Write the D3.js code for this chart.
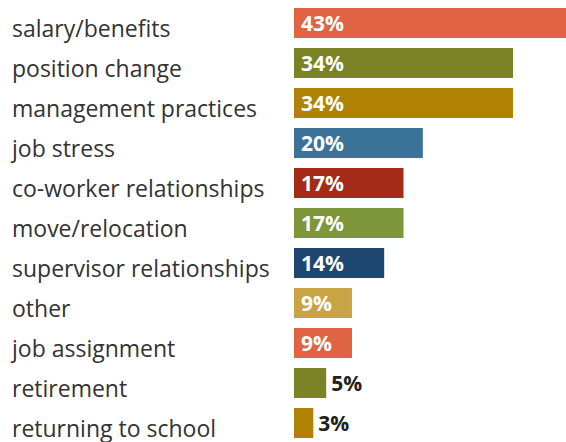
<!DOCTYPE html>
<html><head><meta charset="utf-8">
<script src="https://cdn.jsdelivr.net/npm/d3@7"></script>
<style>html,body{margin:0;padding:0;background:#fff;overflow:hidden}</style>
</head><body><svg id="c" width="566" height="442"></svg>
<script>
const categories = ["salary/benefits","position change","management practices","job stress","co-worker relationships","move/relocation","supervisor relationships","other","job assignment","retirement","returning to school"];
const values = [43,34,34,20,17,17,14,9,9,5,3];
const colors = ["#E06343","#7B8226","#B08204","#3B7398","#A32B17","#7D963A","#1D4670","#C9A445","#E06343","#7B8226","#B08204"];

const svg = d3.select("#c");
const x0 = 294;
const x = d3.scaleLinear().domain([0,34]).range([x0, 513]);
const y = d3.scaleBand().domain(categories).range([8, 438]).paddingInner(0.25).paddingOuter(0);

const rows = svg.selectAll("g.row").data(categories).join("g").attr("class","row");
rows.append("text")
  .attr("x", 12)
  .attr("y", (d)=> y(d) + y.bandwidth() - 1)
  .attr("font-family","'Open Sans', sans-serif")
  .attr("font-size", 23)
  .attr("fill","#333333")
  .text(d=>d);
rows.append("rect")
  .attr("x", x0)
  .attr("y", d=>y(d))
  .attr("width", (d,i)=> x(values[i]) - x0)
  .attr("height", y.bandwidth())
  .attr("fill", (d,i)=>colors[i]);
rows.append("text")
  .attr("x", (d,i)=> values[i] >= 9 ? x0 + 7 : x(values[i]) + 5)
  .attr("y", d=> y(d) + y.bandwidth()/2)
  .attr("dy","0.36em")
  .attr("font-family","'Open Sans', sans-serif")
  .attr("font-weight","bold")
  .attr("font-size", 21)
  .attr("fill", (d,i)=> values[i] >= 9 ? "#ffffff" : "#231F20")
  .text((d,i)=> values[i] + "%");
</script>
</body></html>
